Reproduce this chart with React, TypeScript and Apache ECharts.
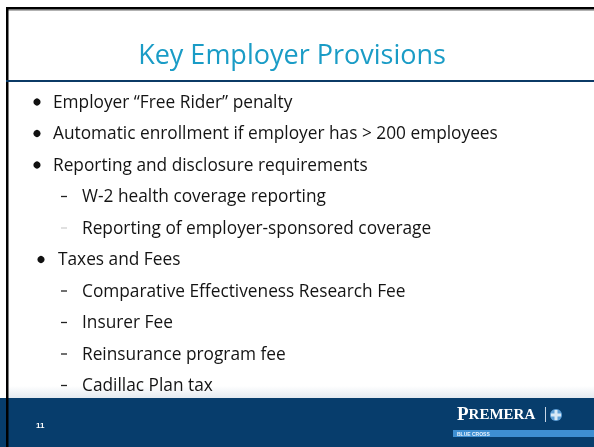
import React, { useEffect, useRef } from "react";
import * as echarts from "echarts";

const titleText = "Key Employer Provisions";
const itemTexts = [
  "Employer \u201cFree Rider\u201d penalty",
  "Automatic enrollment if employer has > 200 employees",
  "Reporting and disclosure requirements",
  "W-2 health coverage reporting",
  "Reporting of employer-sponsored coverage",
  "Taxes and Fees",
  "Comparative Effectiveness Research Fee",
  "Insurer Fee",
  "Reinsurance program fee",
  "Cadillac Plan tax",
];
// 1 = bullet, 2 = dash, 3 = faint dash, 4 = bullet slightly indented
const itemLevels = [1, 1, 1, 2, 3, 4, 2, 2, 2, 2];
const pageNumber = "11";
const logoWord = ["P", "REMERA"];
const logoTag = "BLUE CROSS";

const FONT = "'Open Sans', 'Noto Sans', sans-serif";

export default function App() {
  const ref = useRef<HTMLDivElement>(null);
  useEffect(() => {
    if (!ref.current) return;
    const chart = echarts.init(ref.current, null, { renderer: "svg" });
    const els: any[] = [];
    els.push({ type: "rect", shape: { x: 0, y: 0, width: 594, height: 447 }, style: { fill: "#ffffff" } });
    els.push({
      type: "rect",
      shape: { x: 8, y: 386, width: 586, height: 12 },
      style: {
        fill: new echarts.graphic.LinearGradient(0, 0, 0, 1, [
          { offset: 0, color: "#ffffff" },
          { offset: 1, color: "#e4eaf0" },
        ]),
      },
    });
    els.push({ type: "rect", shape: { x: 0, y: 398, width: 594, height: 49 }, style: { fill: "#073d6c" } });
    els.push({ type: "rect", shape: { x: 6, y: 7, width: 588, height: 2.5 }, style: { fill: "#000000" } });
    els.push({ type: "rect", shape: { x: 6, y: 9.5, width: 588, height: 1 }, style: { fill: "#666666" } });
    els.push({ type: "rect", shape: { x: 6, y: 7, width: 2.5, height: 440 }, style: { fill: "#000000" } });
    els.push({ type: "rect", shape: { x: 6, y: 80, width: 588, height: 2 }, style: { fill: "#0b3a66" } });
    els.push({
      type: "text",
      style: {
        text: titleText, x: 292, y: 53, fontSize: 27, fontWeight: 500, fontFamily: FONT,
        fill: "#1a9cc6", textAlign: "center", textVerticalAlign: "middle",
      },
    });
    itemTexts.forEach((t, i) => {
      const lvl = itemLevels[i];
      const y = 101 + i * 31.5;
      let tx = 53;
      if (lvl === 1 || lvl === 4) {
        const bx = lvl === 4 ? 41 : 37;
        tx = lvl === 4 ? 58 : 53;
        els.push({ type: "circle", shape: { cx: bx, cy: y + 1, r: 3.6 }, style: { fill: "#111111" } });
      } else {
        tx = 82;
        els.push({
          type: "line",
          shape: { x1: 61, y1: y + 1, x2: 67, y2: y + 1 },
          style: { stroke: lvl === 3 ? "#d0d0d0" : "#222222", lineWidth: 1.3 },
        });
      }
      els.push({
        type: "text",
        style: {
          text: t, x: tx, y: y, fontSize: 17.3, fontFamily: FONT,
          fill: "#141414", textAlign: "left", textVerticalAlign: "middle",
        },
      });
    });
    els.push({
      type: "text",
      style: {
        text: pageNumber, x: 36, y: 425, fontSize: 8, fontWeight: "bold",
        fontFamily: "'Liberation Sans', Arial, sans-serif", fill: "#ffffff",
        textAlign: "left", textVerticalAlign: "middle",
      },
    });
    els.push({
      type: "text",
      style: {
        text: `{a|${logoWord[0]}}{b|${logoWord[1]}}`, x: 457, y: 423,
        textAlign: "left", textVerticalAlign: "bottom",
        rich: {
          a: { fontSize: 19, fontWeight: "bold", fontFamily: "'Liberation Serif', 'DejaVu Serif', serif", fill: "#ffffff" },
          b: { fontSize: 15, fontWeight: "bold", fontFamily: "'Liberation Serif', 'DejaVu Serif', serif", fill: "#ffffff" },
        },
      },
    });
    els.push({ type: "line", shape: { x1: 545.5, y1: 407, x2: 545.5, y2: 422 }, style: { stroke: "#c8d6e6", lineWidth: 1 } });
    els.push({ type: "circle", shape: { cx: 556, cy: 415, r: 6 }, style: { fill: "#5f9fd6" } });
    els.push({ type: "rect", shape: { x: 554.5, y: 410, width: 3, height: 10 }, style: { fill: "#d8e8f6" } });
    els.push({ type: "rect", shape: { x: 551, y: 413.5, width: 10, height: 3 }, style: { fill: "#d8e8f6" } });
    els.push({ type: "rect", shape: { x: 453, y: 430, width: 141, height: 7 }, style: { fill: "#3e8fd2" } });
    els.push({
      type: "text",
      style: {
        text: logoTag, x: 457, y: 433.5, fontSize: 5, fontWeight: "bold",
        fontFamily: "'Liberation Sans', Arial, sans-serif", fill: "#e8f2fb",
        textAlign: "left", textVerticalAlign: "middle",
      },
    });

    chart.setOption({ animation: false, graphic: { elements: els } });
    return () => chart.dispose();
  }, []);
  return (
    <div
      ref={ref}
      style={{ position: "fixed", left: 0, top: 0, width: 594, height: 447 }}
    />
  );
}
